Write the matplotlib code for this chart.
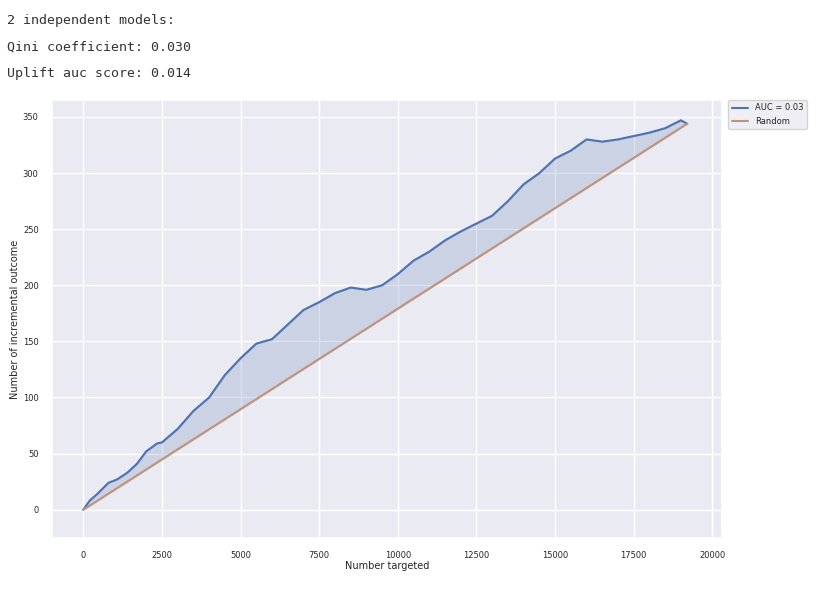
import numpy as np
import matplotlib.pyplot as plt
import seaborn as sns

sns.set_theme()

# Qini curve points
n_targeted = [0, 200, 443, 800, 1076, 1400, 1709, 2000, 2342, 2500, 3000, 3500, 4000, 4500, 5000,
              5500, 6000, 6500, 7000, 7500, 8000, 8500, 9000, 9500, 10000, 10500, 11000,
              11500, 12000, 12500, 13000, 13500, 14000, 14500, 15000, 15500, 16000, 16500,
              17000, 17500, 18000, 18500, 19000, 19200]
incremental = [0, 8, 14, 24, 27, 33, 41, 52, 59, 60, 72, 88, 100, 120, 135,
               148, 152, 165, 178, 185, 193, 198, 196, 200, 210, 222, 230,
               240, 248, 255, 262, 275, 290, 300, 313, 320, 330, 328,
               330, 333, 336, 340, 347, 344]
random_x = [0, 19200]
random_y = [0, 344]

fig = plt.figure(figsize=(8.23, 5.89), dpi=100)
fig.patch.set_facecolor('white')
ax = fig.add_axes([0.063, 0.087, 0.814, 0.743])

rand_interp = np.interp(n_targeted, random_x, random_y)
ax.plot(n_targeted, incremental, color='#4c72b0', lw=1.5, label='AUC = 0.03')
ax.plot(random_x, random_y, color='#c0937a', lw=1.5, label='Random')
ax.fill_between(n_targeted, incremental, rand_interp, color='#4c72b0', alpha=0.2)

ax.set_xlim(-1000, 20300)
ax.set_ylim(-25, 365)
ax.set_xticks(np.arange(0, 20001, 2500))
ax.set_yticks(np.arange(0, 351, 50))
ax.tick_params(labelsize=6)
ax.set_xlabel('Number targeted', fontsize=7, labelpad=1)
ax.set_ylabel('Number of incremental outcome', fontsize=7, labelpad=2)
ax.legend(loc='upper left', bbox_to_anchor=(1.01, 1.0), fontsize=6, borderaxespad=0)

for i, t in enumerate(['2 independent models:', 'Qini coefficient: 0.030', 'Uplift auc score: 0.014']):
    fig.text(0.008, 0.965 - i * 0.045, t, family='DejaVu Sans Mono', fontsize=9.5,
             color='#333333', va='center')

fig.savefig('out.png', dpi=100)
